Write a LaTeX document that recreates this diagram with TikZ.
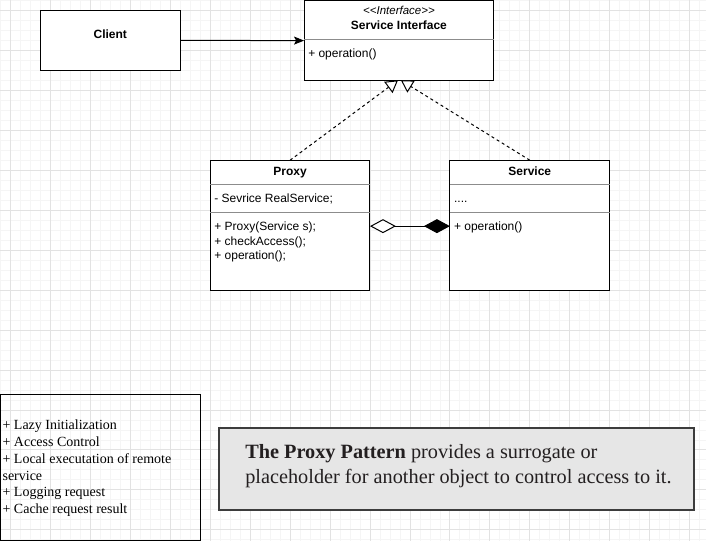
\documentclass[tikz,border=0pt]{standalone}
\usepackage{fontspec}
\setmainfont{Liberation Sans}
\newfontfamily\serifa{Liberation Serif}
\usetikzlibrary{arrows.meta}
\definecolor{gridmajor}{HTML}{E2E2E2}
\definecolor{gridminor}{HTML}{F5F5F5}
\definecolor{defill}{HTML}{E6E6E6}
\definecolor{deborder}{HTML}{3C3C3C}
\definecolor{deftxt}{HTML}{231F20}
\begin{document}
\begin{tikzpicture}[x=1pt,y=-1pt,
  umlbox/.style={draw=black, line width=1pt, fill=white, anchor=north west, outer sep=0pt, inner sep=0pt},
  sanslbl/.style={font=\fontsize{12}{14}\selectfont, inner sep=0pt, anchor=base west},
  headlbl/.style={font=\fontsize{12}{14}\selectfont\bfseries, inner sep=0pt, anchor=base},
  notelbl/.style={font=\serifa\fontsize{14}{17}\selectfont, inner sep=0pt, anchor=base west},
  deflbl/.style={font=\serifa\fontsize{20.3}{25}\selectfont, text=deftxt, inner sep=0pt, anchor=base west},
  divider/.style={draw=black!45, line width=0.8pt},
  realize/.style={draw=black, line width=1pt, dash pattern=on 3pt off 3pt, -{Triangle[length=12pt,width=14pt,fill=white]}},
  assoc/.style={draw=black, line width=1pt, -{Stealth[length=10pt,width=8pt,inset=2pt]}},
  aggcomp/.style={draw=black, line width=1pt, {Diamond[length=26pt,width=14pt,fill=white]}-{Diamond[length=26pt,width=14pt,fill=black]}}
]
% background and grid
\fill[white] (0,0) rectangle (706,541);
\foreach \x in {0,10,...,700} \draw[gridminor, line width=0.8pt] (\x,0) -- (\x,541);
\foreach \y in {0,10,...,540} \draw[gridminor, line width=0.8pt] (0,\y) -- (706,\y);
\foreach \x in {10,50,...,690} \draw[gridmajor, line width=0.8pt] (\x,0) -- (\x,541);
\foreach \y in {10,50,...,530} \draw[gridmajor, line width=0.8pt] (0,\y) -- (706,\y);

% Client
\node[umlbox, minimum width=140pt, minimum height=60pt] (client) at (40,10) {};
\node[headlbl] (clientlbl) at (110,38) {Client};

% Service Interface
\node[umlbox, minimum width=190pt, minimum height=79.5pt] (iface) at (304,0.5) {};
\draw[divider] (304,39) -- (494,39);
\node[font=\fontsize{11.5}{14}\selectfont\itshape, inner sep=0pt, anchor=base] (ifstereo) at (399,14.5) {<{}<Interface>{}>};
\node[headlbl] (iftitle) at (399,29) {Service Interface};
\node[sanslbl] (ifop) at (308,57) {+ operation()};

% Proxy
\node[umlbox, minimum width=160pt, minimum height=130pt] (proxy) at (210,160) {};
\draw[divider] (210,184) -- (370,184);
\draw[divider] (210,212) -- (370,212);
\node[headlbl] (proxytitle) at (290,175) {Proxy};
\node[sanslbl] (proxyattr) at (214,202) {- Sevrice RealService;};
\node[sanslbl] (proxym1) at (214,230.5) {+ Proxy(Service s);};
\node[sanslbl] (proxym2) at (214,245) {+ checkAccess();};
\node[sanslbl] (proxym3) at (214,259.5) {+ operation();};

% Service
\node[umlbox, minimum width=160pt, minimum height=130pt] (svc) at (450,160) {};
\draw[divider] (450,184) -- (610,184);
\draw[divider] (450,212) -- (610,212);
\node[headlbl] (svctitle) at (530,175) {Service};
\node[sanslbl] (svcattr) at (454,202) {....};
\node[sanslbl] (svcop) at (454,230.5) {+ operation()};

% connector end points
\coordinate (ifL) at (398,80);
\coordinate (ifR) at (401,80);
\coordinate (pxR) at (370,226);
\coordinate (svL) at (450,226);

% connectors
\draw[assoc] (client.east) -- (iface.west);
\draw[realize] (proxy.north) -- (ifL);
\draw[realize] (svc.north) -- (ifR);
\draw[aggcomp] (pxR) -- (svL);

% note box
\node[draw=black, line width=1pt, anchor=north west, outer sep=0pt, inner sep=0pt, minimum width=199.5pt, minimum height=145.5pt] (note) at (0.5,395) {};
\node[notelbl] (n1) at (2,429.5) {+ Lazy Initialization};
\node[notelbl] (n2) at (2,446.5) {+ Access Control};
\node[notelbl] (n3) at (2,463.5) {+ Local executation of remote};
\node[notelbl] (n4) at (2,480.5) {service};
\node[notelbl] (n5) at (2,497) {+ Logging request};
\node[notelbl] (n6) at (2,514) {+ Cache request result};

% definition box
\node[draw=deborder, fill=defill, line width=2pt, anchor=north west, outer sep=0pt, inner sep=0pt, minimum width=475pt, minimum height=82pt] (defbox) at (219,428) {};
\node[deflbl] (d1) at (245,459) {\textbf{The Proxy Pattern} provides a surrogate or};
\node[deflbl] (d2) at (245,484) {placeholder for another object to control access to it.};
\end{tikzpicture}
\end{document}
